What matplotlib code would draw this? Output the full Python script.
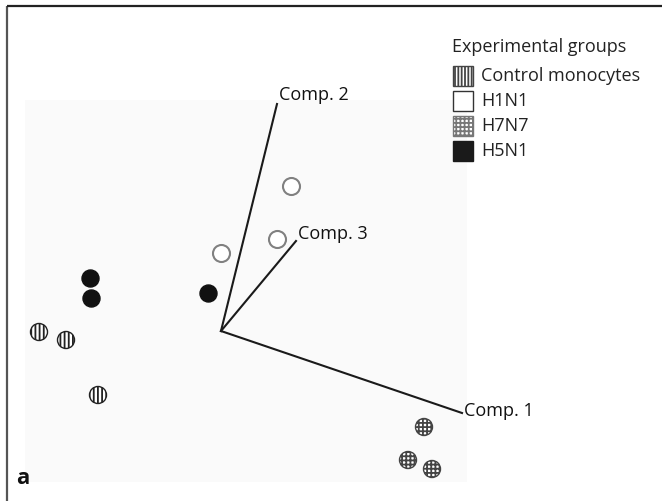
import matplotlib.pyplot as plt
from matplotlib.patches import Rectangle

plt.rcParams['font.family'] = ['Open Sans', 'DejaVu Sans']
plt.rcParams['hatch.linewidth'] = 1.3
plt.rcParams['hatch.color'] = '#222222'

# score positions for each group (plot units, y grows downward)
control_x = [39, 66, 98]
control_y = [332, 340, 395]
h1n1_x = [291, 277, 221]
h1n1_y = [186, 239, 253]
h7n7_x = [424, 408, 432]
h7n7_y = [427, 460, 469]
h5n1_x = [89.5, 91, 208]
h5n1_y = [278, 298, 293]

# loading axes: origin and end of each component line
origin = (221, 331)
comp_names = ["Comp. 1", "Comp. 2", "Comp. 3"]
comp_x = [462, 277, 296]
comp_y = [413, 104, 241]
label_dy = [-2, -9, -7]

group_names = ["Control monocytes", "H1N1", "H7N7", "H5N1"]

fig = plt.figure(figsize=(6.62, 5.01), dpi=100)
ax = fig.add_axes([0, 0, 1, 1])
ax.set_xlim(0, 662)
ax.set_ylim(501, 0)
ax.axis('off')

# faint plot background and the open frame
ax.add_patch(Rectangle((25, 100), 442, 382, facecolor='#fafafa', edgecolor='none', zorder=0))
ax.plot([7, 7], [6, 501], color='#555555', lw=1.6, solid_capstyle='butt')
ax.plot([7, 662], [6, 6], color='#222222', lw=1.6, solid_capstyle='butt')

# component lines
for name, ex, ey, dy in zip(comp_names, comp_x, comp_y, label_dy):
    ax.plot([origin[0], ex], [origin[1], ey], color='#1a1a1a', lw=1.5, zorder=2)
    ax.text(ex + 2, ey + dy, name, fontsize=13, va='center', ha='left', color='#111111')

sz = 150
ax.scatter(control_x, control_y, s=sz, facecolor='white', edgecolor='#222222',
           linewidth=1.0, hatch='||||', zorder=3)
ax.scatter(h1n1_x, h1n1_y, s=sz, facecolor='white', edgecolor='#808080',
           linewidth=1.5, zorder=3)
ax.scatter(h7n7_x, h7n7_y, s=sz, facecolor='white', edgecolor='#444444',
           linewidth=1.0, hatch='++++', zorder=3)
ax.scatter(h5n1_x, h5n1_y, s=sz, facecolor='#111111', edgecolor='#111111',
           linewidth=1.0, zorder=3)

# legend
ax.text(452, 47, "Experimental groups", fontsize=13, va='center', ha='left', color='#222222')
styles = [
    dict(facecolor='white', edgecolor='#444444', hatch='|||||'),
    dict(facecolor='white', edgecolor='#333333', hatch=None),
    dict(facecolor='white', edgecolor='#777777', hatch='++++'),
    dict(facecolor='#1a1a1a', edgecolor='#1a1a1a', hatch=None),
]
for i, (name, st) in enumerate(zip(group_names, styles)):
    yc = 76 + i * 25
    ax.add_patch(Rectangle((453, yc - 10), 20, 20, linewidth=1.0, **st))
    ax.text(481, yc, name, fontsize=13, va='center', ha='left', color='#222222')

ax.text(23, 479, "a", fontsize=16, fontweight='bold', va='center', ha='center', color='#111111')

fig.savefig('out.png', dpi=100)
